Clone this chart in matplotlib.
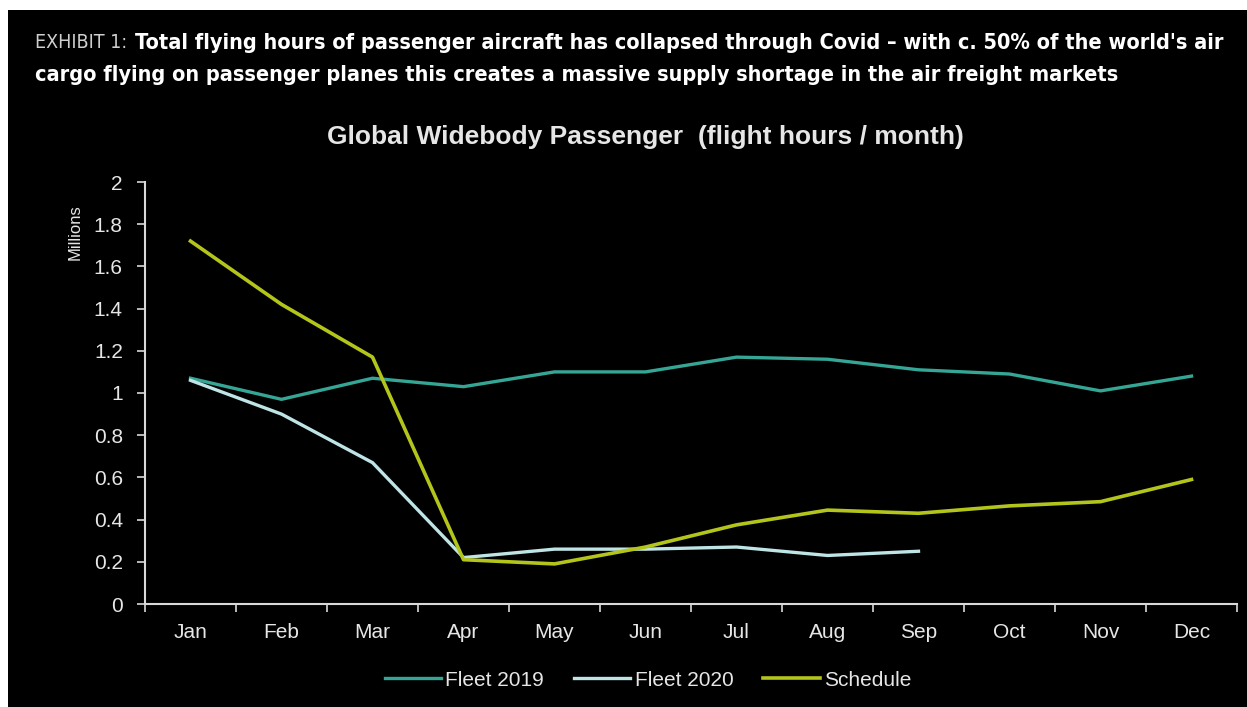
import numpy as np
import matplotlib
matplotlib.use('Agg')
import matplotlib.pyplot as plt
from matplotlib.patches import Rectangle

months = ['Jan', 'Feb', 'Mar', 'Apr', 'May', 'Jun', 'Jul', 'Aug', 'Sep', 'Oct', 'Nov', 'Dec']
fleet_2019 = [1.07, 0.97, 1.07, 1.03, 1.10, 1.10, 1.17, 1.16, 1.11, 1.09, 1.01, 1.08]
fleet_2020 = [1.06, 0.90, 0.67, 0.22, 0.26, 0.26, 0.27, 0.23, 0.25]
schedule = [1.72, 1.42, 1.17, 0.21, 0.19, 0.27, 0.375, 0.445, 0.43, 0.465, 0.485, 0.59]
y_ticks = [0, 0.2, 0.4, 0.6, 0.8, 1, 1.2, 1.4, 1.6, 1.8, 2]
y_labels = ['0', '0.2', '0.4', '0.6', '0.8', '1', '1.2', '1.4', '1.6', '1.8', '2']

W, H = 1247, 707
fig = plt.figure(figsize=(W / 100, H / 100), dpi=100, facecolor='white')
# black panel (white strip on the top / left edges like the screenshot)
fig.patches.append(Rectangle((8 / W, 0), 1, 1 - 10 / H, transform=fig.transFigure,
                             facecolor='black', edgecolor='none', zorder=-5))

head = dict(family='DejaVu Sans', fontstretch='condensed', va='center')
pre = fig.text(35 / W, 1 - 43 / H, 'EXHIBIT 1:', color='#cfcfcf', fontsize=14, **head)
r = fig.canvas.get_renderer()
bb = pre.get_window_extent(r)
fig.text((bb.x1 + 8) / W, 1 - 43 / H,
         "Total flying hours of passenger aircraft has collapsed through Covid \u2013 with c. 50% of the world's air",
         color='white', fontsize=15.6, fontweight='bold', **head)
fig.text(35 / W, 1 - 75 / H,
         'cargo flying on passenger planes this creates a massive supply shortage in the air freight markets',
         color='white', fontsize=15.6, fontweight='bold', **head)

ax = fig.add_axes([145 / W, 1 - 604 / H, (1237 - 145) / W, (604 - 182) / H])
ax.set_facecolor('black')
x = np.arange(len(months))
ax.plot(x, fleet_2019, color='#35a595', lw=2.4, label='Fleet 2019')
ax.plot(x[:len(fleet_2020)], fleet_2020, color='#bfe4e6', lw=2.4, label='Fleet 2020')
ax.plot(x, schedule, color='#b3c41a', lw=2.6, label='Schedule')

ax.set_xlim(-0.5, 11.5)
ax.set_ylim(0, 2)
ax.set_yticks(y_ticks)
ax.set_yticklabels(y_labels)
ax.set_xticks(x)
ax.set_xticklabels(months)
ax.set_xticks(np.arange(-0.5, 12, 1), minor=True)
ax.tick_params(axis='x', which='major', length=0, pad=14, labelsize=15, labelcolor='#e6e6e6')
ax.tick_params(axis='x', which='minor', length=6, width=1.2, color='#d9d9d9', direction='out')
ax.tick_params(axis='y', length=6, width=1.2, color='#d9d9d9', pad=10, labelsize=15,
               labelcolor='#e6e6e6')
for lab in ax.get_xticklabels() + ax.get_yticklabels():
    lab.set_family('Liberation Sans')
for s in ['top', 'right']:
    ax.spines[s].set_visible(False)
for s in ['left', 'bottom']:
    ax.spines[s].set_color('#d9d9d9')
    ax.spines[s].set_linewidth(1.5)

fig.text(75 / W, 1 - 232 / H, 'Millions', rotation=90, color='#e6e6e6', fontsize=12,
         family='Liberation Sans', ha='center', va='center')
fig.text(645 / W, 1 - 137 / H, 'Global Widebody Passenger  (flight hours / month)',
         color='#e6e6e6', fontsize=19, fontweight='bold', family='Liberation Sans',
         ha='center', va='center')

leg = fig.legend(loc='center', bbox_to_anchor=(648 / W, 1 - 680 / H), ncol=3, frameon=False,
                 handlelength=2.7, handletextpad=0.2, columnspacing=1.45,
                 prop={'family': 'Liberation Sans', 'size': 15})
for t in leg.get_texts():
    t.set_color('#e6e6e6')

fig.savefig('out.png', dpi=100, facecolor=fig.get_facecolor())
